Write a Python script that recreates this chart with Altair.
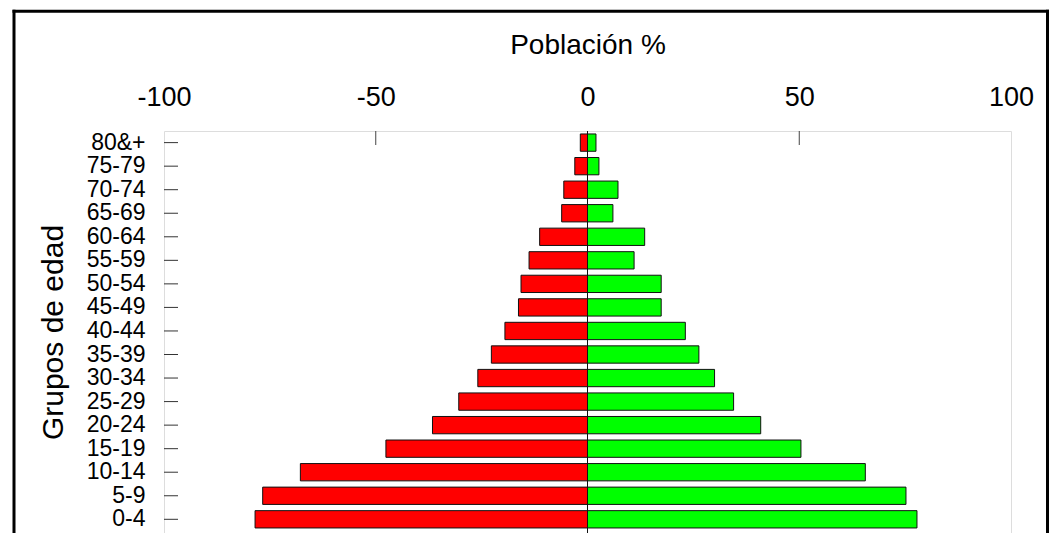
import altair as alt
import pandas as pd

ages = ["80&+", "75-79", "70-74", "65-69", "60-64", "55-59", "50-54", "45-49",
        "40-44", "35-39", "30-34", "25-29", "20-24", "15-19", "10-14", "5-9", "0-4"]
left_values = [-1.7, -3.0, -5.6, -6.1, -11.3, -13.8, -15.7, -16.3,
               -19.5, -22.7, -25.9, -30.4, -36.6, -47.6, -67.8, -76.7, -78.5]
right_values = [2.0, 2.7, 7.2, 6.0, 13.5, 11.0, 17.4, 17.4,
                23.1, 26.3, 30.0, 34.5, 40.9, 50.4, 65.6, 75.2, 77.8]
series = ["Hombres", "Mujeres"]
colors = ["#FF0000", "#00FF00"]
x_ticks = [-100, -50, 0, 50, 100]
inner_ticks = [-50, 50]

FONT = "Liberation Sans"
W, H = 847, 402

bars_df = pd.DataFrame({
    "edad": ages + ages,
    "sexo": [series[0]] * len(ages) + [series[1]] * len(ages),
    "valor": left_values + right_values,
})

x_scale = alt.Scale(domain=[-100, 100], nice=False, zero=False)
y_scale = alt.Scale(domain=ages, paddingInner=0.265, paddingOuter=0.17, align=0.37)

bars = alt.Chart(bars_df).mark_bar(stroke="#111111", strokeWidth=1).encode(
    x=alt.X("valor:Q", scale=x_scale,
            axis=alt.Axis(orient="top", values=x_ticks, ticks=False, tickSize=0,
                          domain=False, grid=False, labelFlush=False, labelBound=False,
                          labelExpr="toString(datum.value)",
                          labelFontSize=27, labelFont=FONT, labelColor="#000000",
                          labelPadding=26, labelBaseline="alphabetic",
                          title="Población %", titleFontSize=28, titleFont=FONT,
                          titleFontWeight="normal", titleColor="#000000",
                          titleY=-78, titleBaseline="alphabetic")),
    x2=alt.datum(0),
    y=alt.Y("edad:N", sort=ages, scale=y_scale,
            axis=alt.Axis(ticks=False, tickSize=0, domain=False, grid=False,
                          labelFontSize=23, labelFont=FONT, labelColor="#000000",
                          labelPadding=19,
                          title="Grupos de edad", titleFontSize=30, titleFont=FONT,
                          titleFontWeight="normal", titleColor="#000000",
                          titleX=-102, titleY=H / 2, titleBaseline="alphabetic",
                          titleAngle=-90)),
    color=alt.Color("sexo:N", scale=alt.Scale(domain=series, range=colors), legend=None),
)

zero_line = alt.Chart(pd.DataFrame({"v": [0]})).mark_rule(color="#111111", strokeWidth=1).encode(
    x=alt.X("v:Q", scale=x_scale),
    y=alt.value(0),
    y2=alt.value(H),
)

xt = alt.Chart(pd.DataFrame({"v": inner_ticks})).mark_rule(color="#444444", strokeWidth=1).encode(
    x=alt.X("v:Q", scale=x_scale),
    y=alt.value(0),
    y2=alt.value(14),
)

yt = alt.Chart(pd.DataFrame({"edad": ages})).mark_rule(color="#333333", strokeWidth=1).encode(
    y=alt.Y("edad:N", sort=ages, scale=y_scale),
    x=alt.value(0),
    x2=alt.value(14),
)

one = pd.DataFrame({"a": [0]})
frame_top = alt.Chart(one).mark_rule(color="#000000", strokeWidth=3).encode(
    x=alt.value(-151.5), x2=alt.value(885), y=alt.value(-119.7))
frame_left = alt.Chart(one).mark_rule(color="#000000", strokeWidth=3).encode(
    x=alt.value(-150), y=alt.value(-121.2), y2=alt.value(H))
frame_right = alt.Chart(one).mark_rule(color="#000000", strokeWidth=3).encode(
    x=alt.value(883.5), y=alt.value(-121.2), y2=alt.value(H))

chart = alt.layer(bars, zero_line, xt, yt, frame_top, frame_left, frame_right).properties(
    width=W,
    height=H,
    autosize=alt.AutoSizeParams(type="none"),
    padding={"left": 156, "top": 123, "right": 38, "bottom": 0},
).configure_view(
    stroke="#333333", strokeWidth=1
).configure(
    background="white", font=FONT
)

chart.save("out.html", embed_options={"renderer": "svg", "actions": False})
